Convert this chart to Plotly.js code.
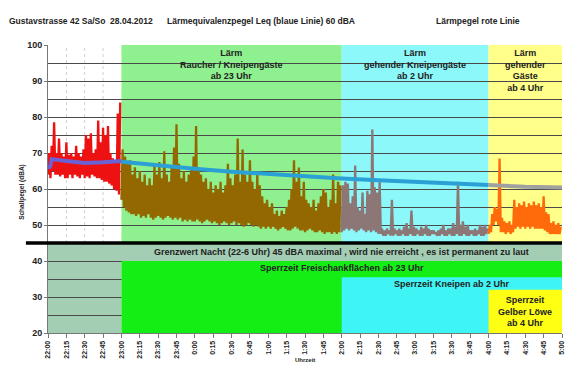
<!DOCTYPE html>
<html><head><meta charset="utf-8">
<script src="https://cdn.plot.ly/plotly-3.0.1.min.js"></script>
<style>html,body{margin:0;padding:0;background:#fff}#chart{width:580px;height:373px}</style>
</head><body><div id="chart"></div>
<script>
// time axis in minutes after 22:00
const tickLabels = ["22:00","22:15","22:30","22:45","23:00","23:15","23:30","23:45","0:00","0:15","0:30","0:45","1:00","1:15","1:30","1:45","2:00","2:15","2:30","2:45","3:00","3:15","3:30","3:45","4:00","4:15","4:30","4:45","5:00"];
const tickStep = 15;
// phases: start minute of each phase, end = 420 (5:00)
const phaseStart = [0, 60, 240, 360];
const phaseEnd = 420;
const sampleStep = 2; // minutes between readings

// noise level (Lärmpegel), low and high envelope per 2 minutes
const redLo = [64,63,65,64,64,63.5,64,63,63,64,63,64,63.5,63,64,63,63.5,63,64,63.5,63,63,62.5,62,62,61.5,61,60,59.5,58.5];
const redHi = [70,72,78.5,70,74,70,69,73,69.5,70,69,72,70,69,71,75,74,75.5,70,71,79,73,77,75,77.5,70,68.5,68,81,84];

const brownLo = [57,55,54,53.5,53,53,52.5,53,52,52.5,52,53,52,51.5,52,52.5,52,51.5,52,52.5,52,51.5,52,51.5,52,51,51.5,51,51.5,51,
  51,51.5,51,50.5,51,51.5,51,50.5,51,50.5,50,50.5,51,50.5,50,50.5,51,50,50.5,50,49.5,50,50.5,50,49.5,50,49.5,49,49.5,49,
  49.5,49,49.5,49,48.5,49,49.5,49,48.5,48.5,49,49.5,49,48.5,48.5,48,48.5,49,48.5,48,48,48.5,48,47.5,48,48,47.5,48,47.5,48];
const brownHi = [71,69,67,68,64,66,63,65,62,64,61,63,61,66.5,64,67.5,63,70.5,64,62,66,71.5,78,67,63,65,62,64,66,69,
  77.5,66,64,62,63,60,62,59,61,60,62,59,61,67,63,61,64,74,62,71,64,62,68,62,60,64,61,58,56,57,
  55,56,53,54,52.5,54,53,55,57,60,68,62,66,58,62,57,56,55,57,54,56,58,60,59,55,57,64,56,62,61];

const grayLo = [48,48.5,49,48.5,49,48.5,48,48.5,49,48.5,48,48.5,48,48.5,48,47.5,
  47.5,47,47,47.5,47,47,47.5,47,47,47.5,47,47,47.5,47,47,47.5,47,47,47.5,47,47,47.5,
  47.5,47,47,47.5,47,47,47.5,47,47,47.5,47,47,47.5,47,47,47.5,47,47,47.5,47,47,47.5];
const grayHi = [61,62,61.5,56,58,66.5,55,54,59,53,59.5,58.5,76.5,60.5,59,62,49,48.5,49,48.5,
  57,49,48.5,49,48.5,49.5,50.5,49,54,49.5,49,48.5,49.5,49,50,49,48.5,48.5,48,48.5,
  49,50,48.5,49,49,50.5,49.5,62,50,51,49.5,50,48.5,48.5,49,48.5,50,49.5,50,49];

const orangeLo = [47.5,48,50,51,50,48,48,47.5,48,47.5,48,49,49.5,49,49.5,49,49.5,49,49.5,49,49,49,49,48.5,48,47.5,47.5,47.5,47.5,47.5];
const orangeHi = [50,53,55,54.5,68.5,52,51,50.5,51,50,57,55,56,55.5,56.5,55,56,55.5,56.5,55.5,56,55,58,53.5,53,50.5,51,50,50.5,49.5];

// equivalent level Leq (blue line)
const leq1T = [0,1,2,3,15,30,45,60];
const leq1V = [66.5,65.8,66.5,68.3,67.8,67.2,67.4,67.8];
const leq2T = [60,90,120,150,180,210,240,270,300,330,360];
const leq2V = [67.6,66.5,65.6,64.8,64.1,63.4,62.9,62.4,61.9,61.5,61.1];
const leq3T = [360,390,420];
const leq3V = [61.1,60.6,60.4];

const limitNight = 45;
const closeFreischank = 40, closeKneipen = 35.5, closeLoewe = 32;
const yMin = 20, yMax = 100;

function zig(start, lo, hi){
  const x=[], y=[];
  for(let i=0;i<lo.length;i++){
    x.push(start+sampleStep*i); y.push(lo[i]);
    x.push(start+sampleStep*i+sampleStep/2); y.push(hi[i]);
  }
  return {x, y};
}
const segs = [
  [zig(phaseStart[0], redLo, redHi), '#ee1111'],
  [zig(phaseStart[1], brownLo, brownHi), '#946800'],
  [zig(phaseStart[2], grayLo, grayHi), '#8d7676'],
  [zig(phaseStart[3], orangeLo, orangeHi), '#ff6a0a']
];
const traces = segs.map(([d,c]) => ({type:'scatter', mode:'lines', x:d.x, y:d.y, line:{color:c, width:2.3}, hoverinfo:'skip'}));
traces.push({type:'scatter',mode:'lines',x:leq1T,y:leq1V,line:{color:'#6a62d4',width:4}});
traces.push({type:'scatter',mode:'lines',x:leq2T,y:leq2V,line:{color:'#2aa0d4',width:4}});
traces.push({type:'scatter',mode:'lines',x:leq3T,y:leq3V,line:{color:'#a0a0a0',width:4}});

const tickVals = tickLabels.map((_,i)=>i*tickStep);
const shapes = [];
function rect(x0,x1,y0,y1,color,layer){ shapes.push({type:'rect',xref:'x',yref:'y',x0,x1,y0,y1,fillcolor:color,line:{width:0},layer}); }
// upper phase backgrounds
rect(phaseStart[1],phaseStart[2],limitNight,yMax,'#8ef08e','below');
rect(phaseStart[2],phaseStart[3],limitNight,yMax,'#8cf8fa','below');
rect(phaseStart[3],phaseEnd,limitNight,yMax,'#ffff8a','below');
// lower: grey band
rect(phaseStart[0],phaseEnd,closeFreischank,limitNight,'#a4ceb4','below');
rect(phaseStart[0],phaseStart[1],yMin,limitNight,'#a4ceb4','below');
// closing time boxes
rect(phaseStart[1],phaseEnd,yMin,closeFreischank,'#14ee14','between');
rect(phaseStart[2],phaseEnd,yMin,closeKneipen,'#3ff4f4','between');
rect(phaseStart[3],phaseEnd,yMin,closeLoewe,'#ffff14','between');
// dashed vertical grid in the white part
tickVals.filter(v=>v>phaseStart[0] && v<phaseStart[1]).forEach(v=>{
  shapes.push({type:'line',xref:'x',yref:'y',x0:v,x1:v,y0:limitNight,y1:yMax,line:{color:'#d0d0d0',width:1,dash:'3px,3px'},layer:'below'});
});
// thick limit line
shapes.push({type:'line',xref:'paper',yref:'y',x0:-0.043,x1:1,y0:limitNight,y1:limitNight,line:{color:'#000',width:3.5},layer:'above'});

const F = 'Liberation Sans, Arial, sans-serif';
const mid = (a,b)=>(a+b)/2;
const ann = [];
function note(x,y,text,size,opts){ ann.push(Object.assign({x,y,xref:'x',yref:'y',xanchor:'center',text,showarrow:false,font:{family:F,size,color:'#222',weight:'bold'}},opts||{})); }
note(mid(phaseStart[1],phaseStart[2]),yMax,'Lärm<br>Raucher / Kneipengäste<br>ab 23 Uhr',9,{yanchor:'top',yshift:-1});
note(mid(phaseStart[2],phaseStart[3]),yMax,'Lärm<br>gehender Kneipengäste<br>ab 2 Uhr',9,{yanchor:'top',yshift:-1});
note(mid(phaseStart[3],phaseEnd),yMax,'Lärm<br>gehender<br>Gäste<br>ab 4 Uhr',9,{yanchor:'top',yshift:-1});
note(mid(phaseStart[1],phaseEnd),mid(closeFreischank,limitNight),'Grenzwert Nacht (22-6 Uhr) 45 dBA maximal , wird nie erreicht , es ist permanent zu laut',9);
note(mid(phaseStart[1],phaseEnd),closeFreischank,'Sperrzeit Freischankflächen ab 23 Uhr',9,{yanchor:'top'});
note(mid(phaseStart[2],phaseEnd),closeKneipen,'Sperrzeit Kneipen ab 2 Uhr',9,{yanchor:'top'});
note(mid(phaseStart[3],phaseEnd),mid(yMin,closeLoewe),'Sperrzeit<br>Gelber Löwe<br>ab 4 Uhr',9);
// titles
function pnote(x,y,text,size,opts){ ann.push(Object.assign({x,y,xref:'paper',yref:'paper',text,showarrow:false,font:{family:F,size,color:'#222',weight:'bold'}},opts||{})); }
pnote(-0.0798,1.108,'Gustavstrasse 42 Sa/So  28.04.2012',8.5,{xanchor:'left'});
pnote(0.2276,1.108,'Lärmequivalenzpegel Leq (blaue Linie) 60 dBA',8.5,{xanchor:'left'});
pnote(0.751,1.108,'Lärmpegel rote Linie',8.5,{xanchor:'left'});
pnote(0.5,-0.111,'Uhrzeit',6,{xanchor:'center'});
ann.push({x:-0.0506,y:59.2,xref:'paper',yref:'y',xanchor:'center',yanchor:'middle',text:'Schallpegel (dBA)',textangle:-90,showarrow:false,font:{family:F,size:6.5,color:'#222',weight:'bold'}});

const layout = {
  width:580,height:373,margin:{l:48,r:18,t:45,b:40},
  paper_bgcolor:'#fff',plot_bgcolor:'#fff',showlegend:false,
  xaxis:{range:[0,phaseEnd],tickvals:tickVals,ticktext:tickLabels,tickangle:-90,showgrid:false,zeroline:false,
    showline:true,linecolor:'#777',ticks:'outside',ticklen:4,tickcolor:'#777',tickfont:{family:F,size:7,color:'#222',weight:'bold'}},
  yaxis:{range:[yMin,yMax],tickvals:[20,30,40,50,60,70,80,90,100],showgrid:true,gridcolor:'#4a4a4a',gridwidth:1,zeroline:false,
    minor:{tickvals:[25,35,45,55,65,75,85,95],showgrid:true,gridcolor:'#4a4a4a',gridwidth:1},
    showline:true,linecolor:'#777',ticks:'outside',ticklen:3,tickcolor:'#777',ticklabelstandoff:0,tickfont:{family:F,size:9,color:'#222',weight:'bold'}},
  shapes, annotations:ann
};
Plotly.newPlot('chart',traces,layout,{displayModeBar:false,staticPlot:true});
</script></body></html>
